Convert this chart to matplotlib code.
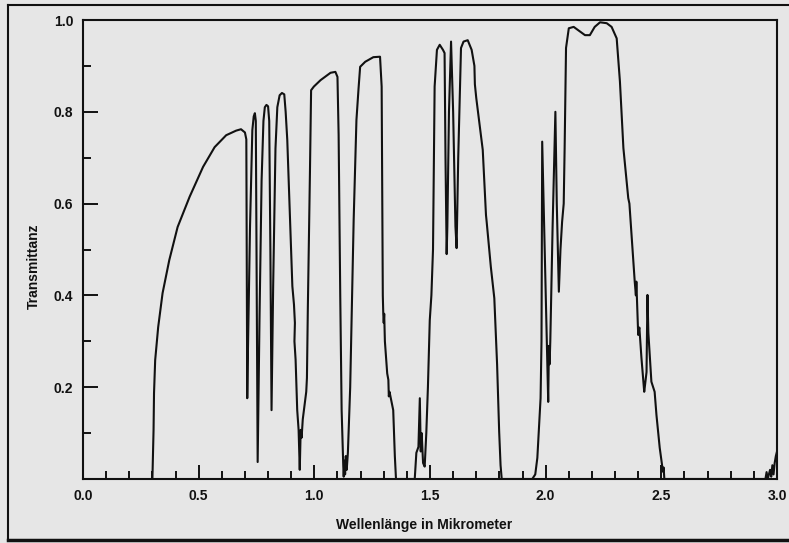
import matplotlib
matplotlib.use('Agg')
import matplotlib.pyplot as plt
from matplotlib.ticker import MultipleLocator, FixedLocator
from matplotlib.lines import Line2D

# transmittance curve (wavelength in micrometer)
wavelength = [
    0.300, 0.305, 0.307, 0.312, 0.325, 0.344, 0.373, 0.409, 0.461, 0.519,
    0.569, 0.619, 0.662, 0.683, 0.700, 0.706, 0.708, 0.710,
    0.712, 0.722, 0.732, 0.738, 0.743, 0.747, 0.750, 0.755,
    0.763, 0.772, 0.780, 0.786, 0.793, 0.800, 0.805, 0.810, 0.815,
    0.822, 0.832, 0.840, 0.850, 0.860, 0.870, 0.876, 0.883, 0.898, 0.905,
    0.912, 0.916, 0.914, 0.919, 0.926, 0.932, 0.935, 0.937, 0.939, 0.941,
    0.945, 0.950, 0.955, 0.965, 0.968, 0.972, 0.981, 0.986,
    0.998, 1.027, 1.070, 1.091, 1.100, 1.105, 1.112, 1.118, 1.125, 1.127,
    1.130, 1.133, 1.136, 1.140, 1.145, 1.155, 1.170, 1.182, 1.191, 1.198,
    1.220, 1.255, 1.284, 1.291, 1.296, 1.298, 1.300, 1.302, 1.305, 1.315,
    1.320, 1.322, 1.325, 1.341, 1.348, 1.353,
    1.434, 1.441, 1.450, 1.456, 1.460, 1.464, 1.470, 1.477, 1.484, 1.491,
    1.499, 1.506, 1.513, 1.520, 1.530, 1.542, 1.556, 1.563, 1.567, 1.572,
    1.575, 1.582, 1.591, 1.600, 1.610, 1.615, 1.622, 1.634, 1.645, 1.663,
    1.680, 1.692, 1.694, 1.700, 1.710, 1.728, 1.742, 1.745, 1.763, 1.778,
    1.790, 1.799, 1.805, 1.810,
    1.942, 1.955, 1.964, 1.978, 1.982, 1.985, 2.011, 2.014, 2.017, 2.020,
    2.030, 2.042, 2.048, 2.057, 2.064, 2.071, 2.078, 2.082, 2.088, 2.100,
    2.121, 2.148, 2.170, 2.191, 2.212, 2.235, 2.264, 2.285, 2.307, 2.321,
    2.336, 2.340, 2.357, 2.362, 2.385, 2.390, 2.392, 2.400, 2.405, 2.414,
    2.426, 2.428, 2.436, 2.440, 2.444, 2.457, 2.471, 2.479, 2.493, 2.507,
    2.510, 2.513,
    2.950, 2.955, 2.960, 2.970, 2.975, 2.980, 2.985, 2.990, 2.995, 3.000,
]
transmittance = [
    0.000, 0.107, 0.187, 0.259, 0.331, 0.405, 0.477, 0.549, 0.615, 0.680,
    0.723, 0.749, 0.759, 0.762, 0.755, 0.740, 0.450, 0.176,
    0.250, 0.550, 0.760, 0.790, 0.797, 0.780, 0.500, 0.037,
    0.350, 0.650, 0.780, 0.810, 0.815, 0.812, 0.780, 0.500, 0.150,
    0.420, 0.720, 0.810, 0.836, 0.841, 0.838, 0.800, 0.739, 0.521, 0.420,
    0.380, 0.340, 0.300, 0.260, 0.150, 0.107, 0.050, 0.020, 0.060, 0.107,
    0.090, 0.130, 0.150, 0.190, 0.220, 0.375, 0.667, 0.847,
    0.855, 0.869, 0.885, 0.887, 0.876, 0.750, 0.400, 0.150, 0.030, 0.005,
    0.040, 0.010, 0.050, 0.020, 0.057, 0.200, 0.564, 0.782, 0.850, 0.898,
    0.909, 0.919, 0.920, 0.855, 0.400, 0.360, 0.340, 0.360, 0.300, 0.230,
    0.216, 0.180, 0.190, 0.150, 0.050, 0.000,
    0.000, 0.057, 0.070, 0.176, 0.060, 0.100, 0.035, 0.027, 0.100, 0.200,
    0.346, 0.400, 0.500, 0.855, 0.935, 0.946, 0.935, 0.928, 0.700, 0.490,
    0.550, 0.800, 0.953, 0.800, 0.550, 0.503, 0.700, 0.939, 0.953, 0.956,
    0.935, 0.900, 0.860, 0.830, 0.790, 0.717, 0.575, 0.560, 0.462, 0.394,
    0.250, 0.103, 0.030, 0.000,
    0.000, 0.010, 0.046, 0.176, 0.300, 0.735, 0.168, 0.290, 0.250, 0.300,
    0.550, 0.800, 0.600, 0.408, 0.500, 0.560, 0.600, 0.721, 0.939, 0.982,
    0.985, 0.975, 0.967, 0.967, 0.985, 0.995, 0.993, 0.985, 0.960, 0.866,
    0.721, 0.700, 0.612, 0.600, 0.430, 0.400, 0.430, 0.314, 0.330, 0.264,
    0.190, 0.198, 0.233, 0.401, 0.318, 0.212, 0.190, 0.139, 0.068, 0.016,
    0.025, 0.000,
    0.000, 0.015, 0.000, 0.020, 0.005, 0.030, 0.010, 0.035, 0.050, 0.060,
]

y_major = [0.2, 0.4, 0.6, 0.8, 1.0]
y_minor = [0.1, 0.3, 0.5, 0.7, 0.9]

BG = '#e6e6e6'
INK = '#111111'
W, H = 789, 543

plt.rcParams['font.family'] = ['Liberation Sans', 'DejaVu Sans']
plt.rcParams['font.weight'] = 'bold'

fig = plt.figure(figsize=(W / 100, H / 100), dpi=100, facecolor=BG)
ax = fig.add_axes([83 / W, 1 - 479 / H, (777 - 83) / W, (479 - 20) / H])
ax.set_facecolor(BG)

ax.plot(wavelength, transmittance, color=INK, lw=1.5, solid_joinstyle='round')

ax.set_xlim(0, 3.0)
ax.set_ylim(0, 1.0)
ax.xaxis.set_major_locator(MultipleLocator(0.5))
ax.xaxis.set_minor_locator(MultipleLocator(0.1))
ax.yaxis.set_major_locator(FixedLocator(y_major))
ax.yaxis.set_minor_locator(FixedLocator(y_minor))
ax.xaxis.set_major_formatter(plt.FuncFormatter(lambda v, p: f"{v:.1f}"))
ax.yaxis.set_major_formatter(plt.FuncFormatter(lambda v, p: f"{v:.1f}"))

ax.tick_params(axis='both', which='both', direction='in', color=INK,
               labelcolor=INK, top=False, right=False, width=1.4)
ax.tick_params(axis='y', which='major', length=11, pad=7, labelsize=10)
ax.tick_params(axis='y', which='minor', length=6)
ax.tick_params(axis='x', which='major', length=10, pad=7, labelsize=10)
ax.tick_params(axis='x', which='minor', length=6)
for s in ax.spines.values():
    s.set_linewidth(1.5)
    s.set_color(INK)

fig.text(424 / W, 1 - 525 / H, "Wellenlänge in Mikrometer", ha='center',
         va='center', fontsize=10, fontweight='bold', color=INK)
fig.text(34 / W, 1 - 266 / H, "Transmittanz", rotation=90, ha='center',
         va='center', fontsize=10, fontweight='bold', color=INK)

# page frame from the scan
frame = [
    ([8, 789], [5, 5], 1.5),
    ([8, 8], [5, 540], 1.5),
    ([8, 789], [540, 540], 2.5),
]
for xs, ys, lw in frame:
    fig.add_artist(Line2D([x / W for x in xs], [1 - y / H for y in ys],
                          transform=fig.transFigure, color=INK, lw=lw))

fig.savefig('out.png', dpi=100, facecolor=fig.get_facecolor())
